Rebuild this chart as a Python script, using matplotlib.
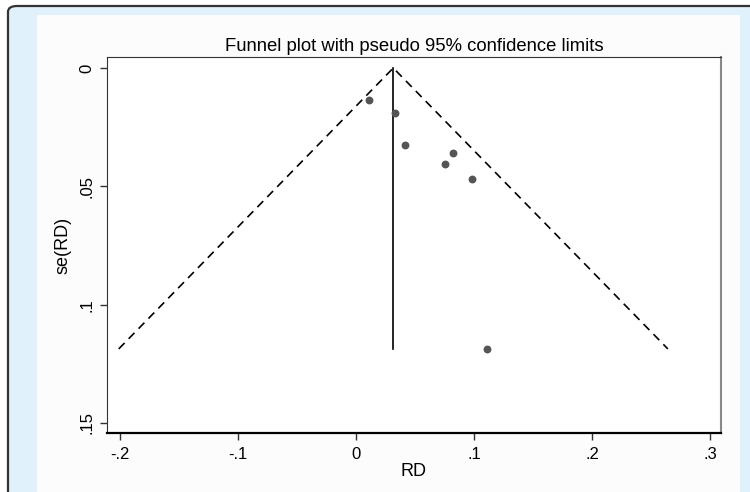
import matplotlib.pyplot as plt
import matplotlib.patches as patches
import numpy as np

plt.rcParams['font.family'] = ['Liberation Sans', 'DejaVu Sans']

# study estimates
rd = [0.011, 0.033, 0.0415, 0.0752, 0.0822, 0.098, 0.111]
se_rd = [0.0135, 0.0191, 0.0324, 0.0407, 0.0359, 0.0469, 0.1187]
pooled = 0.0316
x_ticks = [-0.2, -0.1, 0, 0.1, 0.2, 0.3]
x_labels = ['-.2', '-.1', '0', '.1', '.2', '.3']
y_ticks = [0, 0.05, 0.1, 0.15]
y_labels = ['0', '.05', '.1', '.15']

W, H = 750, 492
fig = plt.figure(figsize=(7.5, 4.92), dpi=100)
fig.patch.set_facecolor('white')

# window-like background: dark border, light blue band, white panel
fig.add_artist(patches.FancyBboxPatch((8 / W, -0.05), (W + 20 - 8) / W, (H - 6) / H + 0.05,
                                      boxstyle='round,pad=0,rounding_size=0.012',
                                      transform=fig.transFigure, facecolor='#e0f1fc',
                                      edgecolor='#333333', linewidth=1.6, zorder=-2))
fig.add_artist(patches.Rectangle((37 / W, 0), (740 - 37) / W, (H - 15) / H,
                                 transform=fig.transFigure, facecolor='#fcfcfc',
                                 edgecolor='none', zorder=-1))

ax = fig.add_axes([107 / W, 1 - 433 / H, (721 - 107) / W, (433 - 57) / H])
ax.set_facecolor('white')

se_max = max(se_rd)
ax.plot([pooled - 1.96 * se_max, pooled, pooled + 1.96 * se_max], [se_max, 0, se_max],
        color='black', linestyle=(0, (5, 3.5)), linewidth=1.2)
ax.plot([pooled, pooled], [0, se_max], color='black', linewidth=1.2)
ax.scatter(rd, se_rd, s=32, color='#555555', zorder=3, linewidths=0)

ax.set_xlim(-0.211, 0.3093)
ax.set_ylim(0.15423, -0.00465)
ax.set_xticks(x_ticks)
ax.set_xticklabels(x_labels, fontsize=12)
ax.set_yticks(y_ticks)
ax.set_yticklabels(y_labels, fontsize=12, rotation=90, va='center')
ax.tick_params(direction='out', length=5, width=1, colors='#333333', labelcolor='black')
ax.tick_params(axis='x', pad=5)
ax.tick_params(axis='y', pad=4)
ax.set_xlabel('RD', fontsize=13, labelpad=1)
ax.set_ylabel('se(RD)', fontsize=13, labelpad=6)
ax.set_title('Funnel plot with pseudo 95% confidence limits', fontsize=13.3, pad=4)

ax.spines['bottom'].set_color('black')
ax.spines['bottom'].set_linewidth(1.6)
ax.spines['left'].set_color('#333333')
ax.spines['top'].set_color('#333333')
ax.spines['right'].set_color('#888888')
ax.spines['right'].set_linewidth(1.5)

fig.savefig('out.png', dpi=100)
